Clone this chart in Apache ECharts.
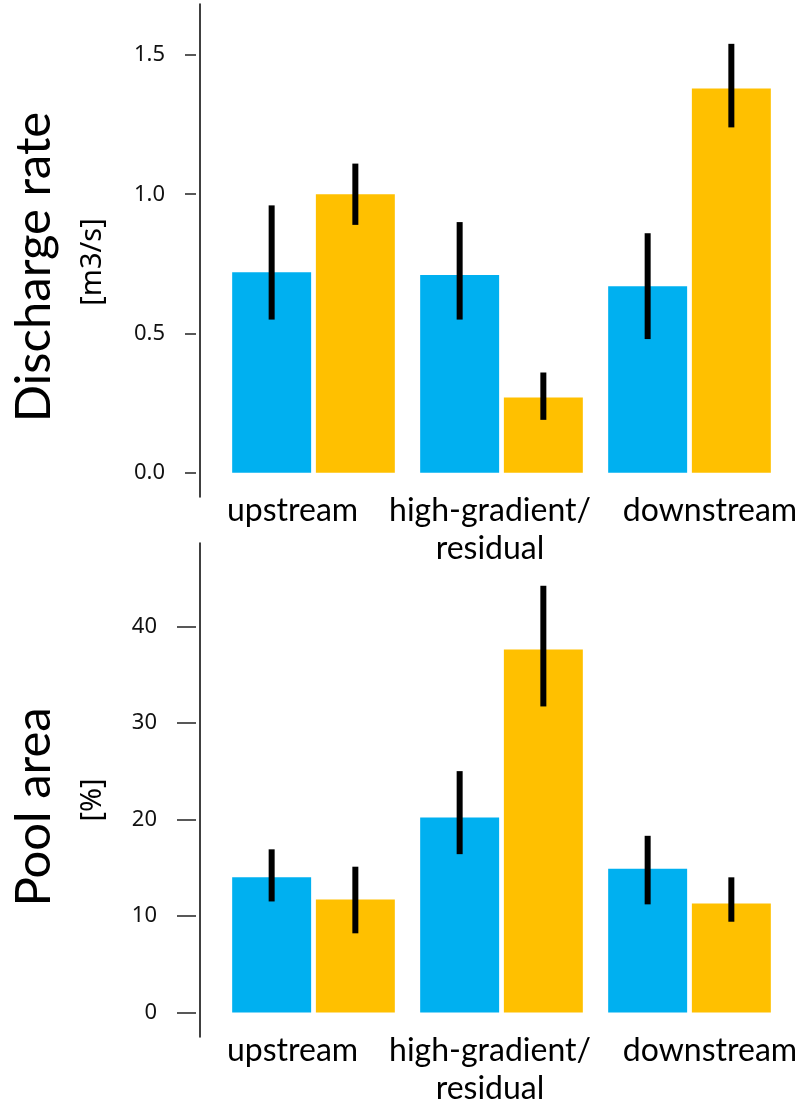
<!DOCTYPE html>
<html>
<head>
<meta charset="utf-8">
<script src="https://cdn.jsdelivr.net/npm/echarts@6/dist/echarts.min.js"></script>
<style>
html,body{margin:0;padding:0;background:#fff;}
#c{width:802px;height:1103px;}
</style>
</head>
<body>
<div id="c"></div>
<script>
const categories = ['upstream', 'high-gradient/\nresidual', 'downstream'];
const seriesNames = ['Series 1', 'Series 2'];

const dischargeBlue = [0.72, 0.71, 0.67];
const dischargeBlueLo = [0.55, 0.55, 0.48];
const dischargeBlueHi = [0.96, 0.90, 0.86];
const dischargeOrange = [1.00, 0.27, 1.38];
const dischargeOrangeLo = [0.89, 0.19, 1.24];
const dischargeOrangeHi = [1.11, 0.36, 1.54];

const poolBlue = [14.0, 20.2, 14.9];
const poolBlueLo = [11.5, 16.4, 11.2];
const poolBlueHi = [16.9, 25.0, 18.3];
const poolOrange = [11.7, 37.6, 11.3];
const poolOrangeLo = [8.2, 31.7, 9.4];
const poolOrangeHi = [15.1, 44.2, 14.0];

const dischargeTicks = [0, 0.5, 1.0, 1.5];
const poolTicks = [0, 10, 20, 30, 40];

// styling constants
const BLUE = '#00B0F0', ORANGE = '#FFC000';
const BAR_W = 0.42, BAR_GAP = 0.06;
const LABEL_FONT = 'Lato';
const TICK_FONT = 'Noto Sans';
const CAT_SIZE = 32, CAT_LH = 38;
// horizontal padding [right, left] per category label (shifts label off the band centre)
const LABEL_PAD = [[42, 0], [23, 0], [0, 41]];

function errData(lo, hi) {
  return lo.map((v, i) => [i, v, hi[i]]);
}
function errSeries(lo, hi, idx, xi, yi) {
  return {
    type: 'custom', xAxisIndex: xi, yAxisIndex: yi, z: 10,
    data: errData(lo, hi),
    encode: { x: 0, y: [1, 2] },
    renderItem: function (params, api) {
      const ci = api.value(0);
      const top = api.coord([ci, api.value(2)]);
      const bot = api.coord([ci, api.value(1)]);
      const band = api.size([1, 0])[0];
      const off = band * BAR_W * (1 + BAR_GAP) / 2 * (idx === 0 ? -1 : 1);
      return { type: 'rect', shape: { x: top[0] + off - 3, y: top[1], width: 6, height: bot[1] - top[1] }, style: { fill: '#000' } };
    }
  };
}
function barSeries(name, data, color, xi, yi) {
  return { type: 'bar', name: name, data: data, xAxisIndex: xi, yAxisIndex: yi,
    barWidth: (BAR_W * 100) + '%', barGap: (BAR_GAP * 100) + '%', itemStyle: { color: color } };
}
function lineAxis(grid, min, max) {
  return { type: 'value', gridIndex: grid, position: 'left', offset: 19.5, min: min, max: max,
    axisLine: { show: true, lineStyle: { color: '#000', width: 1.5 } },
    axisTick: { show: false }, axisLabel: { show: false }, splitLine: { show: false } };
}
function tickAxis(grid, min, max, ticks, len, fmt) {
  return { type: 'value', gridIndex: grid, position: 'left', offset: 23.5, min: min, max: max,
    axisLine: { show: false },
    axisTick: { show: true, length: len, customValues: ticks, lineStyle: { color: '#222', width: 1.5 } },
    axisLabel: { show: true, customValues: ticks, margin: 31 + (len - 11), formatter: fmt,
      fontFamily: TICK_FONT, fontSize: 22, color: '#111' },
    splitLine: { show: false } };
}
const richStyles = {};
LABEL_PAD.forEach((p, i) => {
  richStyles['s' + i] = { fontFamily: LABEL_FONT, fontSize: CAT_SIZE, lineHeight: CAT_LH, color: '#000',
    padding: [0, p[0], 0, p[1]] };
});
function catAxis(grid) {
  return { type: 'category', gridIndex: grid, data: categories,
    axisLine: { show: false, onZero: false }, axisTick: { show: false },
    axisLabel: { fontFamily: LABEL_FONT, fontSize: CAT_SIZE, color: '#000', lineHeight: CAT_LH, margin: -5, interval: 0,
      formatter: function (val, idx) {
        return val.split('\n').map(s => '{s' + idx + '|' + s + '}').join('\n');
      },
      rich: richStyles } };
}

const chart = echarts.init(document.getElementById('c'), null, { renderer: 'canvas' });
chart.setOption({
  animation: false,
  backgroundColor: '#fff',
  grid: [
    { left: 219.5, width: 564, top: 4, height: 493, containLabel: false, outerBoundsMode: 'none' },
    { left: 219.5, width: 564, top: 543, height: 494, containLabel: false, outerBoundsMode: 'none' }
  ],
  xAxis: [catAxis(0), catAxis(1)],
  yAxis: [
    lineAxis(0, -0.087, 1.683),
    tickAxis(0, -0.087, 1.683, dischargeTicks, 11, v => v.toFixed(1)),
    lineAxis(1, -2.54, 48.63),
    tickAxis(1, -2.54, 48.63, poolTicks, 19, v => String(v))
  ],
  series: [
    barSeries(seriesNames[0], dischargeBlue, BLUE, 0, 1),
    barSeries(seriesNames[1], dischargeOrange, ORANGE, 0, 1),
    errSeries(dischargeBlueLo, dischargeBlueHi, 0, 0, 1),
    errSeries(dischargeOrangeLo, dischargeOrangeHi, 1, 0, 1),
    barSeries(seriesNames[0], poolBlue, BLUE, 1, 3),
    barSeries(seriesNames[1], poolOrange, ORANGE, 1, 3),
    errSeries(poolBlueLo, poolBlueHi, 0, 1, 3),
    errSeries(poolOrangeLo, poolOrangeHi, 1, 1, 3)
  ],
  graphic: [
    { type: 'text', x: 34, y: 267, rotation: Math.PI / 2, style: { text: 'Discharge rate', fontFamily: LABEL_FONT, fontSize: 49, fill: '#000', align: 'center', verticalAlign: 'middle' } },
    { type: 'text', x: 93, y: 262, rotation: Math.PI / 2, style: { text: '[m3/s]', fontFamily: TICK_FONT, fontSize: 29, fill: '#000', align: 'center', verticalAlign: 'middle' } },
    { type: 'text', x: 34, y: 807, rotation: Math.PI / 2, style: { text: 'Pool area', fontFamily: LABEL_FONT, fontSize: 49, fill: '#000', align: 'center', verticalAlign: 'middle' } },
    { type: 'text', x: 93, y: 800, rotation: Math.PI / 2, style: { text: '[%]', fontFamily: TICK_FONT, fontSize: 29, fill: '#000', align: 'center', verticalAlign: 'middle' } }
  ]
});
</script>
</body>
</html>
